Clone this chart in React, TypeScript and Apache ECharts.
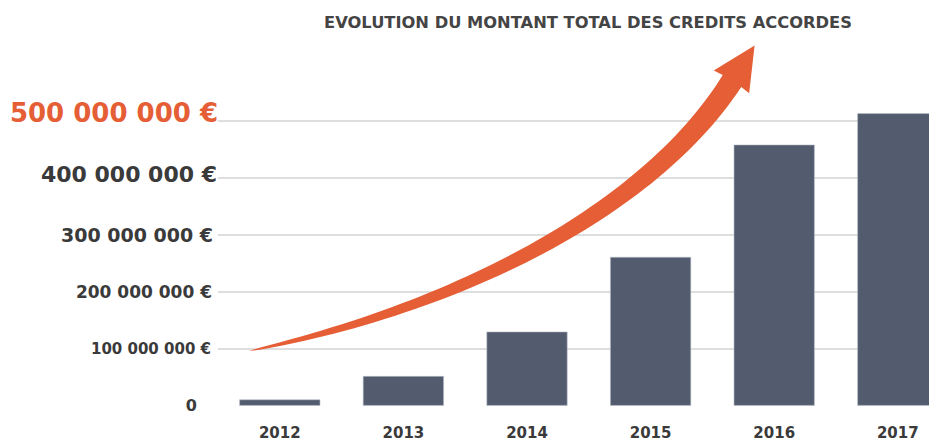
import React, { useEffect, useRef } from "react";
import * as echarts from "echarts";

const years = ["2012", "2013", "2014", "2015", "2016", "2017"];
const credits = [11e6, 52e6, 130e6, 261e6, 458e6, 513e6];
const yTickValues = [0, 1e8, 2e8, 3e8, 4e8, 5e8];
const yTickLabels = ["0", "100 000 000 €", "200 000 000 €", "300 000 000 €", "400 000 000 €", "500 000 000 €"];
const titleText = "EVOLUTION DU MONTANT TOTAL DES CREDITS ACCORDES";

// decorative arrow: centre-line Bezier (page pixels), shaft width and head size
const arrowCurve: number[][] = [[249, 351], [462, 307], [651, 208], [732, 81]];
const arrowMaxWidth = 22;
const arrowHeadHalf = 21;
const arrowHeadLen = 42;

function buildArrow(): string {
  const [P0, P1, P2, P3] = arrowCurve;
  const N = 60;
  const up: number[][] = [];
  const lo: number[][] = [];
  for (let i = 0; i <= N; i++) {
    const s = i / N;
    const a = (1 - s) * (1 - s) * (1 - s), b = 3 * s * (1 - s) * (1 - s), c = 3 * s * s * (1 - s), e = s * s * s;
    const x = a * P0[0] + b * P1[0] + c * P2[0] + e * P3[0];
    const y = a * P0[1] + b * P1[1] + c * P2[1] + e * P3[1];
    const dx = 3 * (1 - s) * (1 - s) * (P1[0] - P0[0]) + 6 * s * (1 - s) * (P2[0] - P1[0]) + 3 * s * s * (P3[0] - P2[0]);
    const dy = 3 * (1 - s) * (1 - s) * (P1[1] - P0[1]) + 6 * s * (1 - s) * (P2[1] - P1[1]) + 3 * s * s * (P3[1] - P2[1]);
    const L = Math.hypot(dx, dy);
    const nx = -dy / L, ny = dx / L;
    const w = (arrowMaxWidth / 2) * Math.pow(s, 0.6);
    up.push([x + nx * w, y + ny * w]);
    lo.push([x - nx * w, y - ny * w]);
  }
  const dx = P3[0] - P2[0], dy = P3[1] - P2[1];
  const L = Math.hypot(dx, dy);
  const ux = dx / L, uy = dy / L;
  const nx = -uy, ny = ux;
  const tip = [P3[0] + ux * arrowHeadLen, P3[1] + uy * arrowHeadLen];
  const bl = [P3[0] + nx * arrowHeadHalf - ux * 1, P3[1] + ny * arrowHeadHalf - uy * 1];
  const br = [P3[0] - nx * arrowHeadHalf - ux * 1, P3[1] - ny * arrowHeadHalf - uy * 1];
  const pts = [...up, bl, tip, br, ...lo.reverse()];
  return "M" + pts.map((p) => `${p[0].toFixed(2)},${p[1].toFixed(2)}`).join(" L") + " Z";
}

echarts.graphic.registerShape("growthArrow", echarts.graphic.extendPath(buildArrow(), {}) as any);

const FONT = "DejaVu Sans";

export default function App() {
  const ref = useRef<HTMLDivElement>(null);
  useEffect(() => {
    if (!ref.current) return;
    const chart = echarts.init(ref.current, undefined, { renderer: "svg" });
    const styleKeys = ["t0", "t1", "t2", "t3", "t4", "t5"];
    chart.setOption({
      animation: false,
      backgroundColor: "#ffffff",
      title: {
        text: titleText,
        left: 583,
        textAlign: "center",
        top: 9,
        textStyle: { fontFamily: FONT, fontSize: 16.3, fontWeight: "bold", color: "#444444" },
      },
      grid: { left: 218, top: 120.7, width: 741.6, bottom: 35.3, containLabel: false, outerBoundsMode: "none" },
      xAxis: {
        type: "category",
        data: years,
        axisLine: { show: false },
        axisTick: { show: false },
        axisLabel: { color: "#3a3a3a", fontFamily: FONT, fontSize: 15, lineHeight: 14, fontWeight: "bold", margin: 20 },
      },
      yAxis: {
        type: "value",
        min: 0,
        max: 5e8,
        interval: 1e8,
        axisLine: { show: false },
        axisTick: { show: false },
        splitLine: {
          lineStyle: { color: ["rgba(0,0,0,0)", "#d3d3d3", "#d3d3d3", "#d3d3d3", "#d3d3d3", "#d3d3d3"], width: 1.5 },
        },
        axisLabel: {
          margin: 0,
          formatter: (v: number) => {
            const i = yTickValues.indexOf(v);
            if (i < 0) return "";
            return `{${styleKeys[i]}|${yTickLabels[i]}}`;
          },
          rich: {
            t0: { fontFamily: FONT, fontWeight: "bold", fontSize: 16, color: "#3a3a3a", padding: [0, 21, 0, 0] },
            t1: { fontFamily: FONT, fontWeight: "bold", fontSize: 15, color: "#3a3a3a", padding: [0, 7, 0, 0] },
            t2: { fontFamily: FONT, fontWeight: "bold", fontSize: 17, color: "#3a3a3a", padding: [0, 6, 0, 0] },
            t3: { fontFamily: FONT, fontWeight: "bold", fontSize: 19, color: "#3a3a3a", padding: [0, 5, 0, 0] },
            t4: { fontFamily: FONT, fontWeight: "bold", fontSize: 22, color: "#3a3a3a", padding: [0, 1, 6, 0] },
            t5: { fontFamily: FONT, fontWeight: "bold", fontSize: 26, color: "#E55E35", padding: [0, 0, 16, 0] },
          },
        },
      },
      series: [
        {
          type: "bar",
          data: credits,
          barWidth: 81,
          clip: false,
          itemStyle: { color: "#525C6E", borderColor: "#b8bfca", borderWidth: 0.6 },
        },
      ],
      graphic: [
        {
          type: "growthArrow",
          x: 0,
          y: 0,
          z: 100,
          style: { fill: "#E55E35" },
        },
      ],
    });
    return () => chart.dispose();
  }, []);
  return (
    <div
      ref={ref}
      style={{ position: "absolute", left: 0, top: 0, width: 929, height: 441 }}
    />
  );
}
